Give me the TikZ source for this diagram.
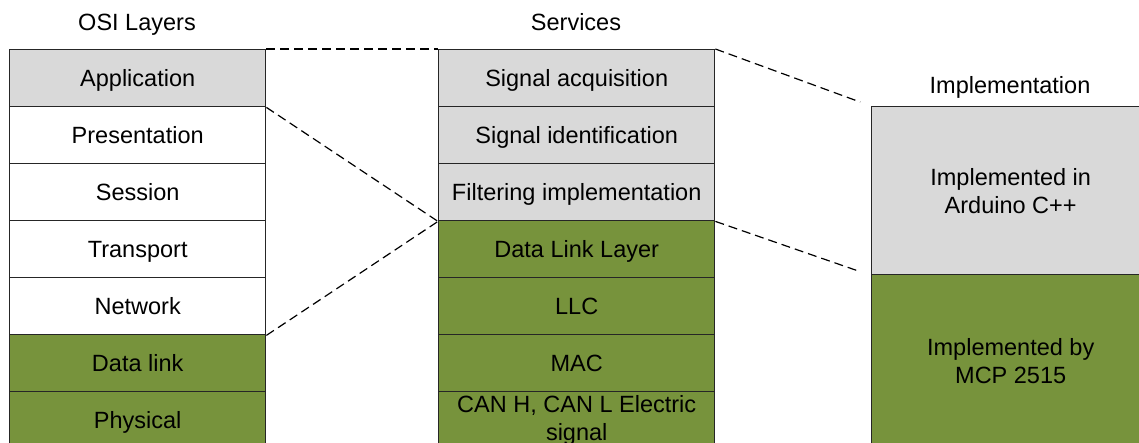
\documentclass[tikz,border=0pt]{standalone}
\usepackage{fontspec}
\setmainfont{Liberation Sans}
\definecolor{layergray}{HTML}{D9D9D9}
\definecolor{layergreen}{HTML}{77933C}
\definecolor{edgec}{HTML}{262626}
\tikzset{
  layer/.style={draw=edgec, line width=1.4pt, anchor=north west, inner sep=0pt,
    align=center, font=\fontsize{23.5}{28}\selectfont,
    text height=17pt, text depth=0pt},
  multi/.style={text height=, text depth=},
  leftcol/.style={layer, minimum width=256pt, minimum height=57pt},
  midcol/.style={layer, minimum width=276pt, minimum height=57pt},
  gray/.style={fill=layergray},
  green/.style={fill=layergreen},
  white/.style={fill=white},
  title/.style={anchor=base, inner sep=0pt, font=\fontsize{23.5}{28}\selectfont},
  dashline/.style={draw=black, line width=1.2pt, dash pattern=on 9pt off 5pt}
}
\begin{document}
\begin{tikzpicture}[x=1pt, y=-1pt]
  \useasboundingbox (0,0) rectangle (1139,442);
  \clip (0,0) rectangle (1139,442);

  % column titles
  \node[title] (tosi) at (137,30) {OSI Layers};
  \node[title] (tsrv) at (576,30) {Services};
  \node[title] (timp) at (1010,93) {Implementation};

  % OSI reference model
  \node[leftcol, gray]  (app)  at (9,49)  {Application};
  \node[leftcol, white] (pres) at (9,106) {Presentation};
  \node[leftcol, white] (ses)  at (9,163) {Session};
  \node[leftcol, white] (tra)  at (9,220) {Transport};
  \node[leftcol, white] (net)  at (9,277) {Network};
  \node[leftcol, green] (dl)   at (9,334) {Data link};
  \node[leftcol, green] (phy)  at (9,391) {Physical};

  % services provided by the node
  \node[midcol, gray]  (sa)  at (438,49)  {Signal acquisition};
  \node[midcol, gray]  (si)  at (438,106) {Signal identification};
  \node[midcol, gray]  (fi)  at (438,163) {Filtering implementation};
  \node[midcol, green] (dll) at (438,220) {Data Link Layer};
  \node[midcol, green] (llc) at (438,277) {LLC};
  \node[midcol, green] (mac) at (438,334) {MAC};
  \node[midcol, green, multi] (can) at (438,391) {CAN H, CAN L Electric\\signal};

  % implementation split
  \node[layer, multi, gray, minimum width=278pt, minimum height=168pt]
    (impsw) at (871,106) {Implemented in\\Arduino C++};
  \node[layer, multi, green, minimum width=278pt, minimum height=172pt]
    (imphw) at (871,274) {Implemented by\\MCP 2515};

  % zoom-in guides
  \draw[dashline] (app.north east) -- (sa.north west);
  \draw[dashline] (app.south east) -- (fi.south west);
  \draw[dashline] (net.south east) -- (fi.south west);
  \draw[dashline, shorten >=11.5pt] (sa.north east) -- (impsw.north west);
  \draw[dashline, shorten >=11.5pt] (fi.south east) -- (impsw.south west);
\end{tikzpicture}
\end{document}
